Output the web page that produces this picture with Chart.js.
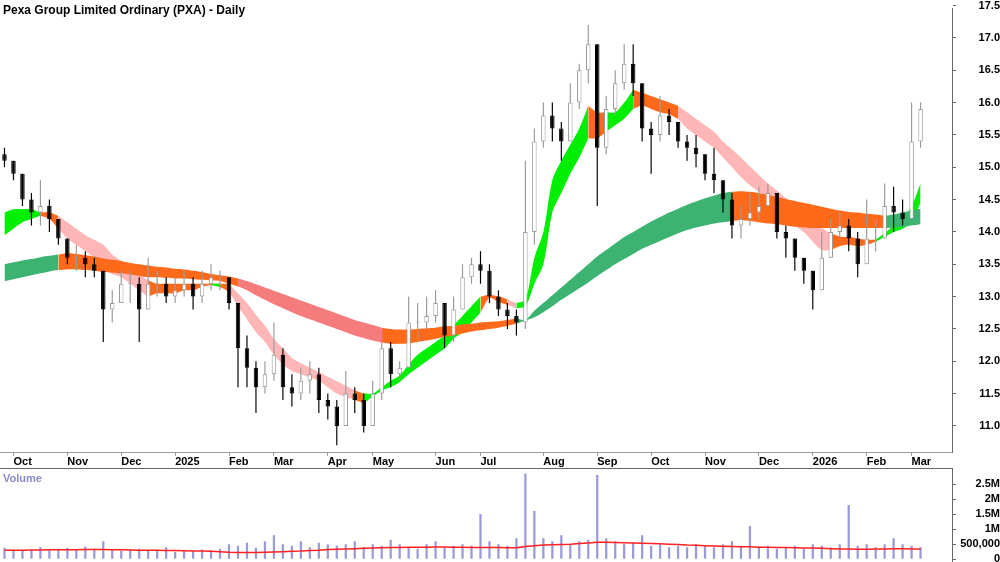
<!DOCTYPE html>
<html><head><meta charset="utf-8">
<script src="https://cdn.jsdelivr.net/npm/chart.js@4.4.1/dist/chart.umd.min.js"></script>
<style>
body{margin:0;background:#fff;width:1000px;height:562px;overflow:hidden;position:relative;font-family:"Liberation Sans",Arial,sans-serif}
#c1{position:absolute;left:0;top:0}
#c2{position:absolute;left:0;top:460px}
#title{position:absolute;left:3px;top:3px;font-weight:bold;font-size:12px;color:#000}
#vlab{position:absolute;left:3px;top:472px;font-weight:bold;font-size:11px;color:#8a8ac8}
#hl{position:absolute;left:0;top:468px;width:952px;height:1px;background:#666}
</style></head><body>
<canvas id="c1" width="1000" height="469"></canvas>
<canvas id="c2" width="1000" height="112"></canvas>
<div id="hl"></div>
<div id="title">Pexa Group Limited Ordinary (PXA) - Daily</div>
<div id="vlab">Volume</div>
<script>
const monthNames=["Sep","Oct","Nov","Dec","2025","Feb","Mar","Apr","May","Jun","Jul","Aug","Sep","Oct","Nov","Dec","2026","Feb","Mar"];
const monthCounts=[1,6,6,6,6,5,6,5,7,5,7,6,6,6,6,6,6,5,2];
const trailingSlots=3;
const firstOpen=15.2;
const closes=[15.1,14.9,14.5,14.3,14.4,14.2,13.9,13.6,13.6,13.5,
13.4,12.8,12.9,13.2,13.2,12.8,13.2,13.2,13.0,13.1,
13.2,13.0,13.2,13.3,13.3,12.9,12.2,11.9,11.6,11.8,
12.1,11.6,11.5,11.7,11.8,11.4,11.3,11.0,11.5,11.4,
11.0,11.5,12.2,11.8,11.9,12.6,12.6,12.7,12.9,12.4,
12.8,13.3,13.5,13.4,13.0,12.8,12.7,12.6,14.0,15.4,
15.8,15.6,15.4,16.0,16.5,16.9,15.3,15.9,16.3,16.6,
16.3,15.6,15.5,15.8,15.7,15.4,15.3,15.2,14.9,14.8,
14.5,14.1,14.2,14.3,14.4,14.6,14.0,13.9,13.6,13.4,
13.1,13.6,14.0,14.1,13.9,13.5,13.9,13.9,14.4,14.3,
14.2,15.4,15.9];
const highs=[15.3,15.1,14.9,14.6,14.8,14.5,14.2,13.9,13.8,13.7,
13.6,13.4,13.1,13.4,13.4,13.3,13.6,13.4,13.3,13.3,
13.4,13.3,13.4,13.5,13.4,13.3,12.9,12.4,12.0,12.0,
12.6,12.2,11.8,11.9,12.0,11.9,11.5,11.4,11.85,11.6,
11.5,11.7,12.5,12.3,12.0,13.0,12.9,13.0,13.1,12.9,
13.0,13.5,13.6,13.7,13.5,13.1,12.9,12.8,15.1,15.6,
16.0,16.0,15.7,16.3,16.6,17.2,16.9,16.1,16.5,16.9,
16.9,16.3,15.7,16.1,15.9,15.7,15.5,15.5,15.2,15.3,
14.8,14.6,14.4,14.6,14.7,14.75,14.5,14.1,13.9,13.6,
13.4,14.0,14.2,14.3,14.2,14.0,14.5,14.2,14.75,14.7,
14.5,16.0,16.0];
const lows=[15.0,14.8,14.4,14.1,14.1,14.0,13.8,13.5,13.4,13.3,
13.3,12.3,12.6,12.9,12.9,12.3,12.8,13.0,12.9,12.9,
13.0,12.8,12.9,13.1,13.1,12.8,11.6,11.6,11.2,11.5,
11.7,11.4,11.3,11.4,11.5,11.2,11.1,10.7,11.1,11.2,
10.9,11.0,11.4,11.6,11.7,11.9,12.3,12.5,12.6,12.2,
12.3,12.8,13.2,13.2,12.9,12.7,12.5,12.4,12.5,13.8,
15.3,15.4,15.1,15.4,15.9,16.3,14.4,15.2,15.8,16.2,
16.1,15.4,14.9,15.4,15.5,15.3,15.1,15.0,14.8,14.6,
14.3,13.9,13.9,14.1,14.2,14.4,13.9,13.6,13.4,13.2,
12.8,13.1,13.8,13.9,13.7,13.3,13.5,13.7,13.9,14.0,
14.1,14.9,15.3];
const shortFast=[14.3,14.35,14.35,14.35,14.3,14.2,14.05,13.9,13.8,13.7,
13.6,13.45,13.35,13.3,13.2,13.1,13.0,13.05,13.05,13.05,
13.1,13.1,13.15,13.18,13.2,13.08,12.85,12.65,12.45,12.3,
12.1,11.95,11.85,11.8,11.75,11.7,11.6,11.5,11.45,11.4,
11.35,11.5,11.6,11.7,11.78,11.95,12.1,12.2,12.3,12.4,
12.55,12.7,12.85,13.0,12.98,12.92,12.87,12.82,12.95,13.6,
14.0,14.8,15.1,15.35,15.6,15.95,15.45,15.55,15.85,16.0,
16.2,15.95,15.9,15.85,15.82,15.75,15.6,15.5,15.4,15.3,
15.15,15.0,14.85,14.72,14.62,14.52,14.4,14.3,14.1,14.0,
13.85,13.72,13.72,13.78,13.8,13.78,13.8,13.85,13.98,14.1,
14.2,14.4,14.75];
const shortSlow=[13.95,14.05,14.15,14.2,14.25,14.3,14.25,14.15,14.05,13.95,
13.88,13.8,13.65,13.55,13.45,13.35,13.25,13.2,13.2,13.2,
13.2,13.2,13.2,13.2,13.15,13.2,13.05,12.9,12.72,12.55,
12.35,12.2,12.05,11.97,11.9,11.83,11.76,11.69,11.62,11.55,
11.5,11.45,11.55,11.6,11.68,11.8,11.9,12.0,12.1,12.2,
12.35,12.45,12.6,12.75,13.03,13.0,12.96,12.9,12.85,13.2,
13.5,14.3,14.6,14.9,15.15,15.45,15.85,15.85,15.65,15.75,
15.9,16.15,16.1,16.05,16.0,15.95,15.85,15.75,15.65,15.55,
15.4,15.28,15.15,15.01,14.88,14.75,14.64,14.52,14.4,14.29,
14.17,14.06,13.98,13.93,13.92,13.9,13.88,13.88,13.92,14.0,
14.05,14.15,14.45];
const longFast=[13.5,13.53,13.56,13.58,13.61,13.63,13.65,13.42,13.42,13.41,
13.4,13.38,13.37,13.36,13.34,13.32,13.3,13.3,13.29,13.28,
13.28,13.27,13.26,13.25,13.24,13.2,13.16,13.1,13.02,12.95,
12.88,12.82,12.76,12.7,12.65,12.6,12.55,12.5,12.45,12.4,
12.36,12.32,12.29,12.27,12.27,12.28,12.3,12.32,12.35,12.38,
12.4,12.43,12.46,12.48,12.5,12.52,12.55,12.58,12.64,12.78,
12.9,13.02,13.14,13.26,13.38,13.5,13.62,13.72,13.82,13.92,
14.0,14.08,14.16,14.23,14.3,14.36,14.42,14.47,14.52,14.56,
14.6,14.62,14.18,14.17,14.15,14.13,14.12,14.1,14.08,14.07,
14.06,14.06,14.06,14.06,14.06,14.06,14.06,14.06,14.06,14.27,
14.3,14.33,14.36];
const longSlow=[13.24,13.27,13.3,13.33,13.36,13.39,13.41,13.67,13.66,13.64,
13.62,13.59,13.57,13.55,13.52,13.5,13.48,13.46,13.45,13.43,
13.42,13.4,13.38,13.35,13.33,13.31,13.28,13.24,13.19,13.14,
13.09,13.04,12.99,12.94,12.89,12.84,12.79,12.74,12.69,12.64,
12.6,12.56,12.52,12.5,12.49,12.49,12.5,12.51,12.52,12.54,
12.55,12.57,12.58,12.6,12.61,12.62,12.64,12.66,12.63,12.68,
12.76,12.85,12.95,13.04,13.13,13.22,13.32,13.41,13.5,13.58,
13.66,13.74,13.8,13.86,13.92,13.98,14.03,14.07,14.1,14.13,
14.15,14.17,14.63,14.62,14.6,14.57,14.54,14.51,14.48,14.45,
14.42,14.39,14.36,14.33,14.31,14.3,14.28,14.27,14.25,14.07,
14.08,14.1,14.12];
const volumes=[380,300,280,320,400,300,350,380,300,420,
350,600,300,280,320,350,300,280,400,250,
300,280,320,300,350,500,450,550,380,600,
800,500,450,600,400,550,500,450,500,600,
400,500,450,650,500,400,350,500,600,400,
450,500,450,1500,600,500,450,700,2850,1600,
700,600,800,500,600,650,2800,700,600,500,
550,800,450,500,400,450,400,500,450,400,
500,600,450,1100,400,450,350,400,450,350,
500,450,400,500,1800,450,500,400,500,700,
500,450,400].map(v=>v*1000);
const volumeAvg=[300,300,300,305,305,310,310,315,315,320,
320,320,315,310,305,300,300,295,290,285,
280,275,270,260,250,230,220,220,225,230,
240,250,260,270,290,300,320,330,340,350,
360,370,380,385,390,395,400,400,405,405,
400,395,390,390,385,385,380,380,420,450,
470,480,490,500,520,540,560,560,555,550,
540,530,520,510,500,490,470,460,450,440,
430,420,415,410,400,395,390,385,380,375,
370,360,350,340,335,330,330,335,340,345,
345,340,340].map(v=>v*1000);
const priceTicks=[11.0,11.5,12.0,12.5,13.0,13.5,14.0,14.5,15.0,15.5,16.0,16.5,17.0,17.5];
const volumeTicks=[0,500000,1000000,1500000,2000000,2500000];

const labels=[],monthStart=[];
monthCounts.forEach((n,m)=>{for(let k=0;k<n;k++){labels.push(monthNames[m]);monthStart.push(k===0&&m>0);}});
for(let k=0;k<trailingSlots;k++){labels.push('');monthStart.push(false);}
const opens=closes.map((c,i)=>i===0?firstOpen:closes[i-1]);
const hiA=highs.map((h,i)=>Math.max(h,opens[i],closes[i]));
const loA=lows.map((l,i)=>Math.min(l,opens[i],closes[i]));
const up=closes.map((c,i)=>c>=opens[i]);

const shortCol=shortFast.map((f,i)=>f>=shortSlow[i]?'G':(i>0&&shortSlow[i-1]-shortSlow[i]>0.06?'P':'O'));
const longCol=longFast.map((f,i)=>f>=longSlow[i]?'G':(i>0&&longSlow[i-1]-longSlow[i]>0.035?'R':'O'));
const colours={sG:'#00ee00',sO:'#ff6a1a',sP:'#ffb6b6',lG:'#3cb371',lO:'#ff6a1a',lR:'#f47c7c'};

function bandSets(fast,slow,col,prefix){
  const out=[];
  ['G','O','P','R'].forEach(c=>{
    if(!col.includes(c))return;
    const mask=col.map((x,i)=>x===c||(i+1<col.length&&col[i+1]===c));
    const lo=fast.map((f,i)=>mask[i]?Math.min(f,slow[i]):null);
    const hi=fast.map((f,i)=>mask[i]?Math.max(f,slow[i]):null);
    out.push({type:'line',data:lo,borderWidth:0,pointRadius:0,fill:false,order:10,spanGaps:false,tension:0.3});
    out.push({type:'line',data:hi,borderWidth:0,pointRadius:0,fill:'-1',backgroundColor:colours[prefix+c],order:10,spanGaps:false,tension:0.3});
  });
  return out;
}
const datasets=[...bandSets(longFast,longSlow,longCol,'l'),...bandSets(shortFast,shortSlow,shortCol,'s')];
datasets.push({type:'bar',data:loA.map((l,i)=>[l,hiA[i]]),backgroundColor:up.map(u=>u?'#9a9a9a':'#000'),barPercentage:0.13,categoryPercentage:1,grouped:false,order:2});
datasets.push({type:'bar',data:opens.map((o,i)=>[o,closes[i]===o?o+0.01:closes[i]]),backgroundColor:up.map(u=>u?'#ffffff':'#000'),borderColor:up.map(u=>u?'#9a9a9a':'#000'),borderWidth:1,borderSkipped:false,barPercentage:0.5,categoryPercentage:1,grouped:false,order:1});

const tickFont={family:'"Liberation Sans",Arial,sans-serif',size:11,weight:'bold'};
const xCommon={type:'category',offset:true,grid:{display:false}};
function yRight(min,max,ticks,fmt){
  return {position:'right',min,max,afterFit:s=>{s.width=48;},afterBuildTicks:s=>{s.ticks=ticks.map(v=>({value:v}));},
    ticks:{font:tickFont,color:'#000',crossAlign:'far',padding:2,autoSkip:false,callback:fmt},
    grid:{drawOnChartArea:false,tickLength:4,color:'#666'},border:{display:true,color:'#666'}};
}
Chart.defaults.animation=false;
new Chart(document.getElementById('c1'),{type:'bar',data:{labels,datasets},options:{responsive:false,devicePixelRatio:1,
  layout:{padding:0,autoPadding:false},plugins:{legend:{display:false},tooltip:{enabled:false}},
  scales:{x:{...xCommon,border:{display:true,color:'#999'},
    grid:{display:true,drawOnChartArea:false,tickLength:3,offset:false,color:'#999'},
    ticks:{autoSkip:false,maxRotation:0,align:'start',padding:0,font:tickFont,color:'#000',
      callback:(v,i)=>monthStart[i]?labels[i]:null}},
    y:yRight(10.585,17.453,priceTicks,v=>v.toFixed(1))}}});

new Chart(document.getElementById('c2'),{type:'bar',data:{labels,datasets:[
  {type:'line',data:volumeAvg,borderColor:'#ff2020',borderWidth:1.5,pointRadius:0,order:0},
  {type:'bar',data:volumes,backgroundColor:'#9a9ad8',barPercentage:0.25,categoryPercentage:1,order:1}]},
  options:{responsive:false,devicePixelRatio:1,layout:{padding:0,autoPadding:false},plugins:{legend:{display:false},tooltip:{enabled:false}},
  scales:{x:{...xCommon,display:false},
    y:yRight(-140000,3013000,volumeTicks,v=>v===0?'0':v===500000?'500,000':(v/1e6)+'M')}}});
</script></body></html>
